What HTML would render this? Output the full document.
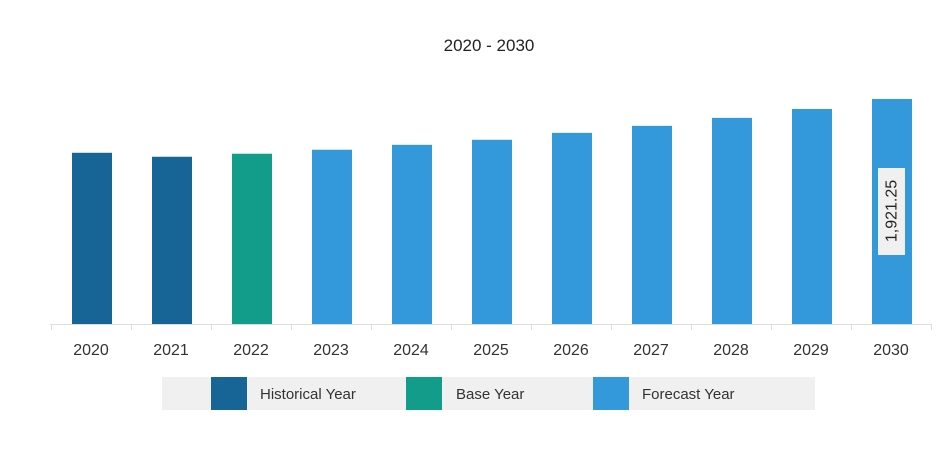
<!DOCTYPE html>
<html><head><meta charset="utf-8"><style>
body{margin:0;background:#fff;font-family:"Liberation Sans",sans-serif;}
svg text{font-family:"Liberation Sans",sans-serif;}
</style></head><body>
<svg width="948" height="458">
<text x="489" y="51" text-anchor="middle" font-size="17" fill="#222">2020 - 2030</text>
<g id="bars"></g>
<line x1="50" y1="324.5" x2="931" y2="324.5" stroke="#ddd"/>
<g id="ticks"></g>
<g>
<rect x="162" y="377" width="653" height="33" fill="#f0f0f0"/>
<rect x="211" y="377" width="36" height="33" fill="#176496"/>
<text x="260" y="399" font-size="15" fill="#333">Historical Year</text>
<rect x="406" y="377" width="36" height="33" fill="#129d8a"/>
<text x="456" y="399" font-size="15" fill="#333">Base Year</text>
<rect x="593" y="377" width="36" height="33" fill="#3399db"/>
<text x="642" y="399" font-size="15" fill="#333">Forecast Year</text>
</g>
</svg>
<script>
const categories=["2020","2021","2022","2023","2024","2025","2026","2027","2028","2029","2030"];
const values=[1462,1428,1454,1488,1530,1573,1632,1692,1760,1836,1921.25];
const kinds=["historical","historical","base","forecast","forecast","forecast","forecast","forecast","forecast","forecast","forecast"];
const colors={historical:"#176496",base:"#129d8a",forecast:"#3399db"};
const NS="http://www.w3.org/2000/svg";
const base=324, maxV=1921.25, maxH=225;
const y=v=>base-v/maxV*maxH;
const x=i=>51+i*80;
const bars=document.getElementById('bars'), ticks=document.getElementById('ticks');
categories.forEach((c,i)=>{
 const r=document.createElementNS(NS,'rect');
 r.setAttribute('x',x(i)+21);r.setAttribute('width',40);
 r.setAttribute('y',y(values[i]));r.setAttribute('height',base-y(values[i]));
 r.setAttribute('fill',colors[kinds[i]]);
 
 
 bars.appendChild(r);
 const t=document.createElementNS(NS,'line');
 t.setAttribute('x1',x(i)+0.5);t.setAttribute('x2',x(i)+0.5);t.setAttribute('y1',base);t.setAttribute('y2',base+6);
 t.setAttribute('stroke','#ddd');
 
 
 ticks.appendChild(t);
 const l=document.createElementNS(NS,'text');
 l.setAttribute('x',x(i)+40);l.setAttribute('y',355);l.setAttribute('text-anchor','middle');
 l.setAttribute('font-size','16');l.setAttribute('fill','#333');l.textContent=c;
 
 
 ticks.appendChild(l);
});
const t2=document.createElementNS(NS,'line');
t2.setAttribute('x1',x(11)+0.5);t2.setAttribute('x2',x(11)+0.5);t2.setAttribute('y1',base);t2.setAttribute('y2',base+6);t2.setAttribute('stroke','#ddd');


ticks.appendChild(t2);
// value label on last bar
const li=values.length-1, cx=x(li)+41, cy=211;
const g=document.createElementNS(NS,'g');


const bg=document.createElementNS(NS,'rect');
bg.setAttribute('x',cx-14);bg.setAttribute('y',cy-43);bg.setAttribute('width',27);bg.setAttribute('height',87);bg.setAttribute('fill','#f0f0f0');
g.appendChild(bg);
const vt=document.createElementNS(NS,'text');
vt.setAttribute('x',cx);vt.setAttribute('y',cy);vt.setAttribute('text-anchor','middle');vt.setAttribute('dominant-baseline','central');
vt.setAttribute('font-size','16');vt.setAttribute('fill','#222');
vt.setAttribute('transform','rotate(-90 '+cx+' '+cy+')');
vt.textContent=values[li].toLocaleString('en-US',{minimumFractionDigits:2});
g.appendChild(vt);
bars.appendChild(g);
</script>
</body></html>
